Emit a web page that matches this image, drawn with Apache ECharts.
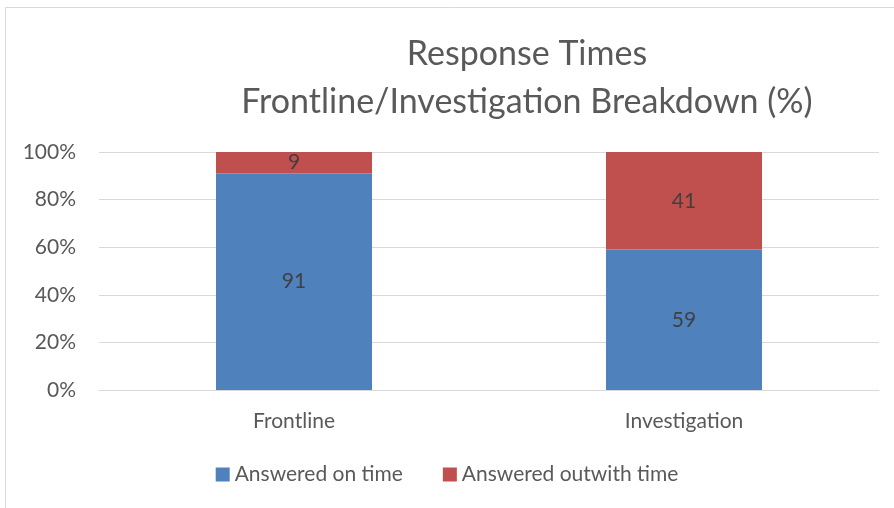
<!DOCTYPE html>
<html>
<head>
<meta charset="UTF-8">
<title>Response Times</title>
<script src="https://cdn.jsdelivr.net/npm/echarts@6/dist/echarts.min.js"></script>
</head>
<body style="margin:0">
<div id="container" style="width:894px;height:508px"></div>
<script type="text/javascript">
    var categories = ['Frontline', 'Investigation'];
    var onTime = [91, 59];
    var outwithTime = [9, 41];
    var yTicks = [0, 20, 40, 60, 80, 100];

    var font = 'Lato, "Open Sans", sans-serif';
    var chart = echarts.init(document.getElementById('container'));

    var option = {
        backgroundColor: '#fff',
        animation: false,
        title: {
            text: 'Response Times\nFrontline/Investigation Breakdown (%)',
            left: 522,
            top: 25,
            textAlign: 'center',
            textStyle: {
                fontFamily: font,
                fontSize: 34,
                fontWeight: 'normal',
                color: '#595959',
                lineHeight: 48
            }
        },
        graphic: [{
            type: 'rect',
            shape: { x: 5.5, y: 7.5, width: 900, height: 520 },
            style: { fill: 'none', stroke: '#d9d9d9', lineWidth: 1 }
        }],
        legend: {
            bottom: 18,
            left: 'center',
            itemWidth: 14,
            itemHeight: 14,
            itemGap: 40,
            icon: 'rect',
            textStyle: { fontFamily: font, fontSize: 21, color: '#595959' },
            data: ['Answered on time', 'Answered outwith time']
        },
        grid: { left: 99, right: 15, top: 152, bottom: 118, containLabel: false },
        xAxis: {
            type: 'category',
            data: categories,
            axisTick: { show: false },
            axisLine: { lineStyle: { color: '#d9d9d9' } },
            axisLabel: { fontFamily: font, fontSize: 21, color: '#595959', margin: 21 }
        },
        yAxis: {
            type: 'value',
            min: yTicks[0],
            max: yTicks[yTicks.length - 1],
            interval: 20,
            axisLine: { show: false },
            axisTick: { show: false },
            splitLine: { lineStyle: { color: '#d9d9d9' } },
            axisLabel: {
                fontFamily: font, fontSize: 21, color: '#595959', margin: 23,
                formatter: '{value}%'
            }
        },
        series: [{
            name: 'Answered on time',
            type: 'bar',
            stack: 'total',
            barWidth: '40%',
            data: onTime,
            itemStyle: { color: '#4f81bd' },
            label: { show: true, position: 'inside', fontFamily: font, fontSize: 21, color: '#404040' }
        }, {
            name: 'Answered outwith time',
            type: 'bar',
            stack: 'total',
            barWidth: '40%',
            data: outwithTime,
            itemStyle: { color: '#c0504d' },
            label: { show: true, position: 'inside', fontFamily: font, fontSize: 21, color: '#404040' }
        }]
    };
    chart.setOption(option);
</script>
</body>
</html>
